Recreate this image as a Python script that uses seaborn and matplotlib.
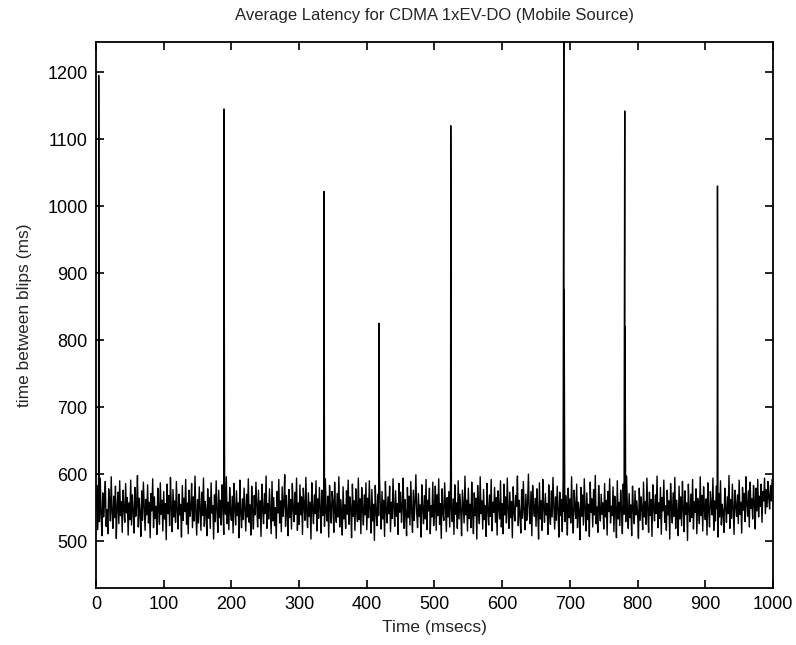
import numpy as np
import pandas as pd
import matplotlib
matplotlib.use("Agg")
import matplotlib.pyplot as plt
import seaborn as sns

# Background latency samples (ms), one every 1.25 msecs
baseline_ms = [
    548, 583, 517, 561, 529, 594, 541, 508, 572, 536, 555, 589, 522, 547, 511, 578, 563, 530, 596, 544,
    519, 567, 535, 582, 504, 551, 573, 526, 590, 538, 559, 513, 576, 549, 528, 586, 542, 565, 509, 557,
    532, 591, 524, 569, 546, 512, 580, 537, 553, 598, 521, 564, 543, 507, 575, 531, 588, 550, 516, 562,
    539, 584, 527, 558, 505, 571, 545, 593, 520, 566, 534, 552, 510, 579, 548, 525, 587, 540, 561, 515,
    574, 533, 556, 502, 585, 541, 568, 523, 595, 549, 514, 577, 536, 560, 528, 589, 546, 518, 570, 539,
    555, 506, 583, 531, 564, 544, 592, 525, 557, 511, 576, 537, 548, 586, 520, 566, 530, 597, 543, 509,
    562, 527, 581, 550, 516, 573, 538, 594, 522, 559, 545, 508, 578, 534, 565, 519, 587, 542, 553, 503,
    569, 529, 590, 547, 513, 576, 535, 561, 524, 584, 551, 510, 572, 540, 596, 526, 558, 517, 580, 544,
    531, 567, 512, 586, 549, 524, 575, 538, 557, 505, 591, 543, 520, 563, 532, 579, 547, 515, 570, 536,
    593, 528, 554, 509, 582, 545, 518, 568, 539, 588, 552, 521, 576, 534, 560, 507, 585, 548, 526, 571,
    541, 597, 519, 556, 533, 578, 546, 511, 589, 530, 565, 523, 550, 504, 574, 542, 592, 527, 560, 514,
    581, 537, 553, 599, 522, 568, 545, 508, 577, 535, 562, 518, 586, 549, 529, 573, 540, 594, 516, 557,
    525, 584, 539, 566, 510, 579, 552, 531, 595, 544, 520, 572, 537, 558, 503, 587, 548, 526, 569, 541,
    590, 515, 563, 534, 580, 549, 512, 576, 538, 555, 522, 593, 545, 530, 567, 506, 583, 550, 527, 574,
    559, 513, 588, 543, 528, 571, 536, 596, 521, 562, 547, 509, 581, 533, 554, 519, 575, 540, 591, 525,
    566, 550, 505, 585, 537, 560, 516, 578, 546, 529, 594, 532, 563, 511, 580, 548, 524, 569, 539, 587,
    517, 564, 535, 590, 547, 512, 577, 530, 555, 501, 583, 544, 523, 570, 538, 597, 552, 518, 574, 533,
    561, 507, 589, 546, 527, 566, 541, 582, 514, 558, 534, 593, 549, 522, 575, 537, 556, 510, 586, 543,
    573, 528, 551, 594, 519, 562, 540, 508, 580, 535, 567, 524, 589, 546, 513, 576, 531, 557, 599, 542,
    520, 571, 537, 554, 506, 584, 549, 526, 568, 533, 592, 517, 561, 545, 579, 511, 553, 536, 588, 523,
    547, 582, 516, 569, 538, 593, 525, 556, 504, 578, 542, 531, 587, 550, 514, 565, 536, 574, 521, 595,
    548, 529, 563, 510, 584, 540, 557, 519, 590, 533, 570, 546, 508, 576, 552, 527, 597, 539, 561, 515,
    579, 534, 555, 520, 588, 545, 511, 572, 538, 564, 503, 583, 549, 526, 596, 541, 560, 518, 577, 532,
    553, 507, 586, 547, 524, 569, 537, 592, 515, 558, 543, 580, 528, 565, 509, 575, 550, 533, 590, 521,
    556, 511, 585, 539, 566, 527, 594, 548, 519, 573, 535, 559, 505, 581, 544, 530, 568, 552, 597, 523,
    561, 540, 512, 577, 534, 589, 546, 517, 570, 531, 555, 600, 542, 526, 574, 508, 583, 550, 537, 564,
    522, 578, 545, 503, 587, 533, 560, 516, 592, 549, 528, 571, 539, 556, 510, 584, 541, 525, 575, 536,
    595, 552, 518, 566, 531, 582, 547, 506, 573, 538, 562, 514, 590, 544, 529, 568, 553, 509, 579, 535,
    563, 527, 596, 541, 512, 576, 550, 534, 585, 520, 558, 545, 502, 580, 537, 569, 524, 593, 548, 515,
    572, 532, 555, 507, 588, 543, 563, 521, 577, 539, 598, 526, 551, 513, 583, 546, 530, 570, 540, 557,
    518, 586, 536, 561, 509, 574, 544, 593, 527, 552, 538, 581, 514, 567, 549, 505, 590, 533, 558, 523,
    576, 547, 511, 585, 540, 564, 529, 597, 545, 519, 571, 535, 554, 508, 582, 548, 526, 575, 539, 560,
    542, 504, 579, 531, 566, 549, 517, 588, 536, 559, 525, 594, 546, 513, 573, 538, 562, 507, 584, 551,
    530, 569, 541, 597, 520, 557, 534, 580, 510, 565, 545, 591, 528, 553, 516, 576, 539, 560, 503, 586,
    550, 527, 572, 537, 595, 519, 561, 544, 508, 582, 533, 566, 523, 589, 548, 514, 575, 540, 557, 501,
    585, 546, 529, 570, 535, 592, 518, 559, 543, 578, 511, 564, 552, 526, 596, 538, 568, 515, 581, 547,
    532, 563, 509, 587, 545, 521, 574, 553, 539, 594, 516, 560, 530, 582, 548, 506, 571, 536, 590, 524,
    555, 543, 513, 579, 550, 528, 566, 541, 598, 519, 562, 534, 585, 547, 510, 576, 553, 537, 569, 526,
    591, 540, 558, 512, 580, 546, 571, 529, 596, 554, 537, 575, 521, 588, 549, 563, 533, 583, 557, 518,
    579, 545, 592, 536, 567, 552, 585, 528, 574, 560, 594, 541, 577, 551, 589, 565, 548, 583, 560, 592,
]

# Blip spikes: time (msecs) and peak latency (ms)
spike_time = [4, 189, 337, 418, 524, 691, 781, 918]
spike_peak = [1195, 1145, 1022, 825, 1120, 1290, 1142, 1030]

# Second, smaller sample right after some spikes
shoulder_time = [189.5, 524.5, 691.5, 781.5, 918.5]
shoulder_value = [864, 857, 875, 820, 778]

base_t = np.arange(len(baseline_ms)) * 1.25
df = pd.concat([
    pd.DataFrame({"t": base_t, "ms": baseline_ms}),
    pd.DataFrame({"t": spike_time, "ms": spike_peak}),
    pd.DataFrame({"t": shoulder_time, "ms": shoulder_value}),
]).sort_values("t", kind="mergesort").reset_index(drop=True)

sns.set_style("ticks")
plt.rcParams["font.family"] = ["Liberation Sans", "DejaVu Sans"]

fig = plt.figure(figsize=(7.96, 6.45), dpi=100)
ax = fig.add_axes([0.1206, 0.0884, 0.8505, 0.8465])

sns.lineplot(data=df, x="t", y="ms", ax=ax, color="black", linewidth=1.0,
             estimator=None, sort=False)

ax.set_xlim(0, 1000)
ax.set_ylim(430, 1245)
ax.set_xticks(np.arange(0, 1001, 100))
ax.set_yticks(np.arange(500, 1201, 100))
ax.tick_params(direction="in", top=True, right=True, length=5.5, width=1.2,
               labelsize=13, colors="black", pad=6)
for s in ax.spines.values():
    s.set_visible(True)
    s.set_linewidth(1.3)
    s.set_color("black")

ax.set_xlabel("Time (msecs)", fontsize=12.5, labelpad=5)
ax.set_ylabel("time between blips (ms)", fontsize=12.5, labelpad=11)
ax.set_title("Average Latency for CDMA 1xEV-DO (Mobile Source)", fontsize=12, pad=16)

fig.savefig("out.png", dpi=100, facecolor="white")
